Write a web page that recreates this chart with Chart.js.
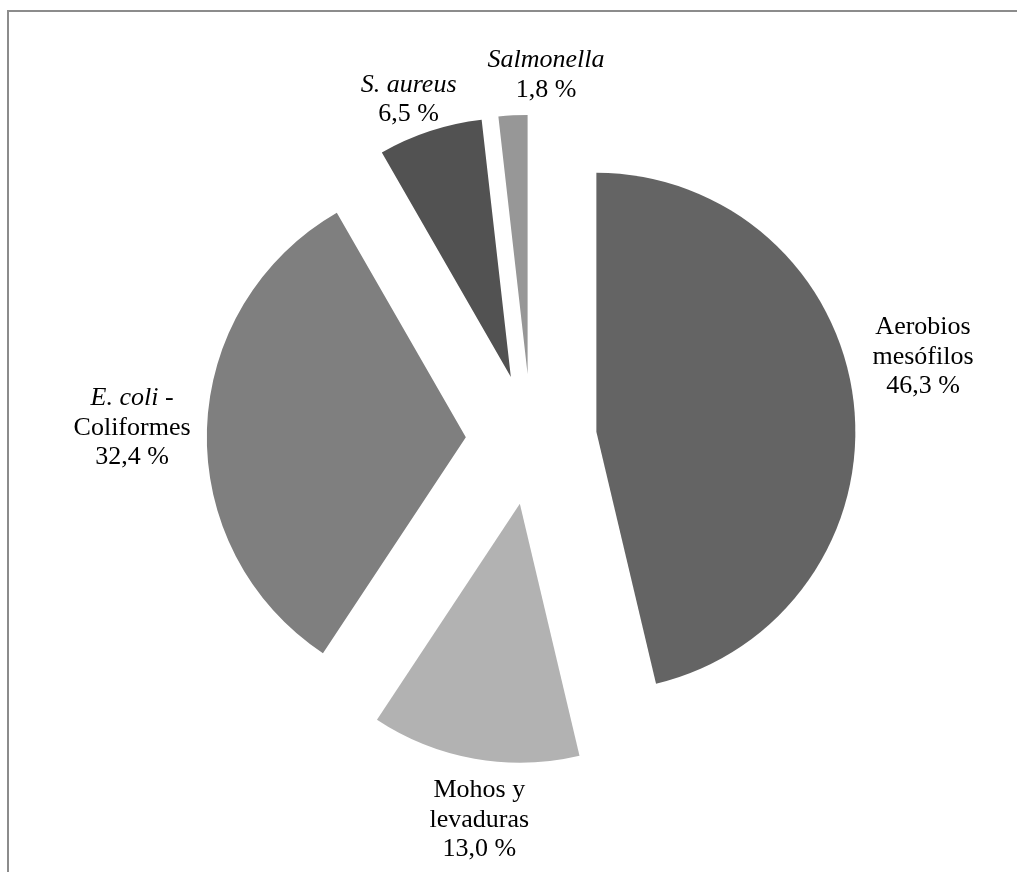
<!DOCTYPE html>
<html>
<head>
<meta charset="utf-8">
<script src="https://cdn.jsdelivr.net/npm/chart.js@4/dist/chart.umd.min.js"></script>
<style>
  html, body { margin: 0; padding: 0; background: #fff; }
  #chart { display: block; }
</style>
</head>
<body>
<canvas id="chart" width="1017" height="872"></canvas>
<script>
// Microbial groups (percent of samples), clockwise from 12 o'clock
const categories = ['Aerobios mesófilos', 'Mohos y levaduras', 'E. coli - Coliformes', 'S. aureus', 'Salmonella'];
const values = [46.3, 13.0, 32.4, 6.5, 1.8];
// label text lines, *...* marks italic runs
const labelLines = [
  ['Aerobios', 'mesófilos'],
  ['Mohos y', 'levaduras'],
  ['*E. coli* -', 'Coliformes'],
  ['*S. aureus*'],
  ['*Salmonella*']
];
const sliceColors = ['#646464', '#b2b2b2', '#7f7f7f', '#525252', '#979797'];

// label placement: angle shift from slice middle (deg) and distance as a multiple of the radius
const labelShift = [-5.22, -2.3, -0.2, -1.67, 5.56];
const labelDist = [1.5455, 1.484, 1.542, 1.395, 1.408];

const EXPLODE = 65.5;  // every slice pulled out from the centre by this many px
const FONT = '"Liberation Serif", "Times New Roman", serif';
const FONT_SIZE = 26;
const LINE_H = 29.5;

function fmtPct(v) {
  return v.toFixed(1).replace('.', ',') + ' %';
}

// split "*E. coli* -" into [{text, italic}]
function segments(line) {
  return line.split('*').map((t, i) => ({ text: t, italic: i % 2 === 1 })).filter(s => s.text);
}

function segFont(italic) {
  return (italic ? 'italic ' : '') + FONT_SIZE + 'px ' + FONT;
}

function midAngle(arc) {
  return (arc.startAngle + arc.endAngle) / 2;
}

const frame = {
  id: 'frame',
  beforeDraw(chart) {
    const ctx = chart.ctx;
    ctx.save();
    ctx.fillStyle = '#8c8c8c';
    ctx.fillRect(7, 10, chart.width - 7, 2);
    ctx.fillRect(7, 10, 2, chart.height - 10);
    ctx.restore();
  }
};

// draw each arc shifted outward along its bisector (the built-in offset also trims the angle)
const explode = {
  id: 'explode',
  beforeDatasetDraw(chart, args) {
    const ctx = chart.ctx;
    args.meta.data.forEach(arc => {
      const a = midAngle(arc);
      ctx.save();
      ctx.translate(Math.cos(a) * EXPLODE, Math.sin(a) * EXPLODE);
      arc.draw(ctx, chart.chartArea);
      ctx.restore();
    });
    return false;
  }
};

const sliceLabels = {
  id: 'sliceLabels',
  afterDatasetsDraw(chart) {
    const ctx = chart.ctx;
    const meta = chart.getDatasetMeta(0);
    ctx.save();
    ctx.fillStyle = '#000';
    ctx.textBaseline = 'middle';
    ctx.textAlign = 'left';
    meta.data.forEach((arc, i) => {
      const a = midAngle(arc) + labelShift[i] * Math.PI / 180;
      const dist = arc.outerRadius * labelDist[i];
      const cx = arc.x + Math.cos(a) * dist;
      const cy = arc.y + Math.sin(a) * dist;
      const lines = labelLines[i].concat([fmtPct(values[i])]);
      const top = cy - (lines.length - 1) * LINE_H / 2;
      lines.forEach((line, k) => {
        const segs = segments(line);
        let w = 0;
        segs.forEach(s => { ctx.font = segFont(s.italic); w += ctx.measureText(s.text).width; });
        let x = cx - w / 2;
        segs.forEach(s => {
          ctx.font = segFont(s.italic);
          ctx.fillText(s.text, x, top + k * LINE_H);
          x += ctx.measureText(s.text).width;
        });
      });
    });
    ctx.restore();
  }
};

new Chart(document.getElementById('chart'), {
  type: 'pie',
  data: {
    labels: categories,
    datasets: [{
      data: values,
      backgroundColor: sliceColors,
      borderWidth: 0,
      clip: false
    }]
  },
  options: {
    responsive: false,
    animation: false,
    radius: 259,
    layout: { padding: { left: 45.6, right: 0, top: 6.6, bottom: 0 } },
    plugins: {
      legend: { display: false },
      tooltip: { enabled: false }
    }
  },
  plugins: [frame, explode, sliceLabels]
});
</script>
</body>
</html>
